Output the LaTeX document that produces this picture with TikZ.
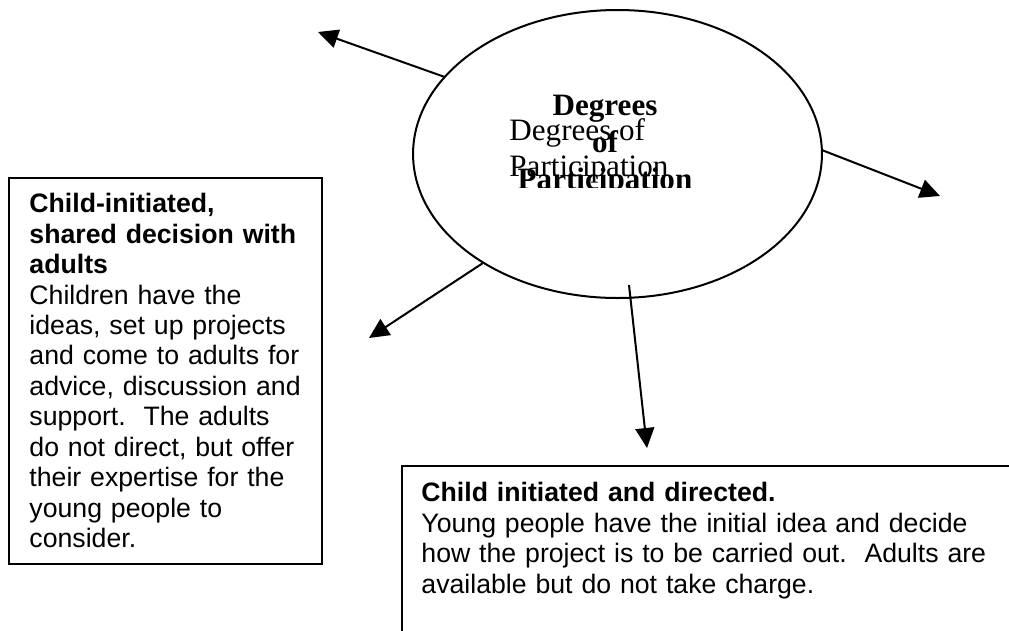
\documentclass[tikz,border=0pt]{standalone}
\usepackage{fontspec}
\setmainfont{Liberation Serif}
\newfontfamily\arial{Liberation Sans}
\usetikzlibrary{
    shapes.geometric,
    arrows.meta,
    positioning
}

\begin{document}
\begin{tikzpicture}[
    x=0.45pt,
    y=-0.45pt,
    box/.style={
        draw,
        line width=0.9pt,
        anchor=north west,
        inner sep=0pt
    },
    txt/.style={
        font=\arial\fontsize{12}{13.7}\selectfont\frenchspacing,
        align=left,
        anchor=north west,
        inner sep=0pt
    },
    bubble/.style={
        draw,
        ellipse,
        line width=0.9pt,
        minimum width=184pt,
        minimum height=129.6pt,
        inner sep=0pt
    },
    link/.style={
        line width=0.9pt,
        -{Triangle[length=9pt,width=8.5pt]}
    }]
    \useasboundingbox (0,0) rectangle (1009,630);
    \clip (0,0) rectangle (1009,630);

    \node[bubble] (deg) at (617.5,154) {};

    \node[anchor=north west, inner sep=0pt, align=left, font=\fontsize{14}{16.1}\selectfont] (lbl1) at (509,118) {Degrees of\\Participation};
    \begin{scope}
        \clip (420,20) rectangle (820,187);
        \node[anchor=north, inner sep=0pt, align=center, font=\bfseries\fontsize{14}{16.6}\selectfont] (lbl2) at (605,95) {Degrees\\of\\Participation};
    \end{scope}

    \node[box, minimum width=140.85pt, minimum height=173.7pt] (box1) at (8,177) {};
    \node[box, minimum width=279pt, minimum height=90pt] (box2) at (401,465) {};

    \node[txt, text width=127pt] (txt1) at ([shift={(21,16)}]box1.north west) {\textbf{Child-initiated,}\\
        \textbf{\makebox[121.5pt][s]{shared decision with}}\\
        \textbf{adults}\\
        Children have the\\
        ideas, set up projects\\
        and come to adults for\\
        advice, discussion and\\
        support.\ \ The adults\\
        do not direct, but offer\\
        their expertise for the\\
        young people to\\
        consider.};
    \node[txt, text width=255pt] (txt2) at ([shift={(20,17)}]box2.north west) {\textbf{Child initiated and directed.}\\
        Young people have the initial idea and decide\\
        how the project is to be carried out.\ \ Adults are\\
        available but do not take charge.};

    \coordinate (t1) at (318,32);
    \coordinate (t2) at (940,196);
    \coordinate (t3) at (369,338);
    \coordinate (s4) at (629,285);
    \coordinate (t4) at (647,448);

    \draw[link] (deg.156.4) -- (t1);
    \draw[link] (deg.1.4) -- (t2);
    \draw[link] (deg.219.2) -- (t3);
    \draw[link] (s4) -- (t4);
\end{tikzpicture}
\end{document}
